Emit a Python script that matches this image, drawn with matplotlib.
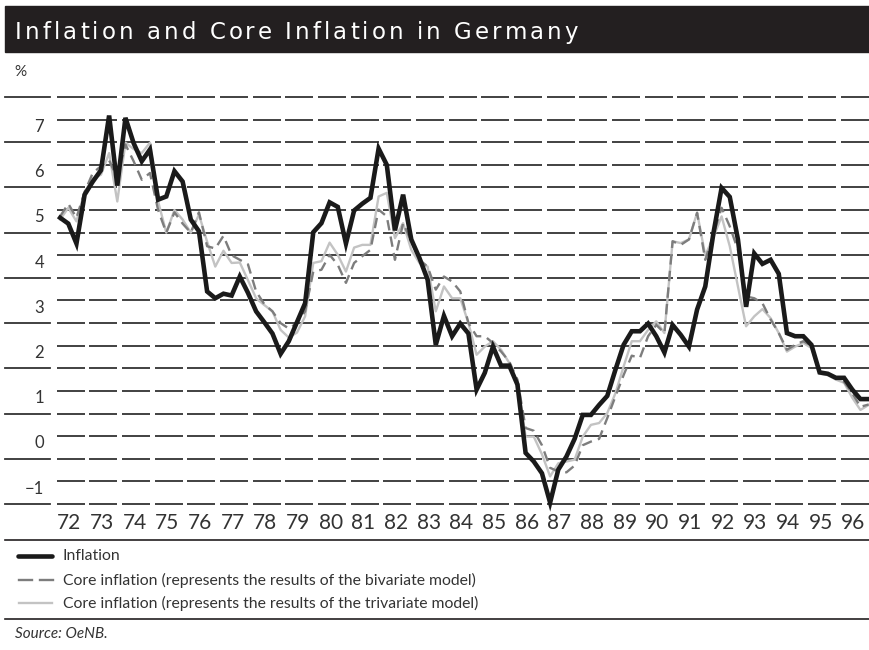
import matplotlib
matplotlib.use('Agg')
import matplotlib.pyplot as plt
import matplotlib.transforms as mtrans
from matplotlib.lines import Line2D
from matplotlib.patches import Rectangle
import numpy as np

plt.rcParams['lines.scale_dashes'] = False

# ---------------- data ----------------
years = list(range(1972, 1997))
year_labels = [f"{y % 100:02d}" for y in years]
y_tick_values = [-1, 0, 1, 2, 3, 4, 5, 6, 7]
y_tick_labels = ["\u22121", "0", "1", "2", "3", "4", "5", "6", "7"]

inflation = [
    5.33, 5.20, 4.76, 5.84, 6.13, 6.38, 7.59, 6.04, 7.54, 6.98,
    6.58, 6.84, 5.73, 5.80, 6.36, 6.13, 5.29, 5.03, 3.70, 3.55,
    3.65, 3.61, 4.03, 3.67, 3.26, 3.02, 2.77, 2.32, 2.60, 3.02,
    3.44, 5.01, 5.21, 5.67, 5.57, 4.76, 5.49, 5.64, 5.77, 6.86,
    6.50, 5.05, 5.84, 4.85, 4.44, 3.96, 2.52, 3.16, 2.71, 2.99,
    2.77, 1.53, 1.90, 2.48, 2.06, 2.06, 1.64, 0.13, -0.06, -0.32,
    -0.97, -0.24, 0.05, 0.44, 0.97, 0.97, 1.19, 1.39, 1.97, 2.52,
    2.82, 2.82, 2.99, 2.71, 2.35, 2.96, 2.74, 2.48, 3.30, 3.81,
    4.99, 5.99, 5.79, 4.85, 3.36, 4.54, 4.31, 4.40, 4.09, 2.78,
    2.71, 2.71, 2.52, 1.91, 1.88, 1.79, 1.79, 1.53, 1.32, 1.32,
]
core_bivariate = [
    5.36, 5.64, 5.33, 5.90, 6.32, 6.47, 6.60, 6.20, 6.95, 6.58,
    6.17, 6.32, 5.50, 5.00, 5.45, 5.20, 5.00, 5.45, 4.70, 4.65,
    4.93, 4.50, 4.40, 4.30, 3.70, 3.42, 3.26, 3.00, 2.88, 3.00,
    3.26, 4.14, 4.18, 4.51, 4.29, 3.89, 4.33, 4.48, 4.62, 5.51,
    5.36, 4.40, 5.21, 4.81, 4.40, 4.25, 3.74, 4.03, 3.92, 3.70,
    3.00, 2.71, 2.71, 2.56, 2.37, 2.15, 1.75, 0.68, 0.62, 0.30,
    -0.20, -0.28, -0.30, -0.15, 0.30, 0.38, 0.44, 0.90, 1.38, 1.85,
    2.28, 2.23, 2.71, 2.96, 2.78, 4.81, 4.73, 4.85, 5.44, 4.40,
    4.96, 5.55, 5.14, 4.62, 3.59, 3.55, 3.44, 3.08, 2.78, 2.41,
    2.52, 2.60, 2.50, 1.90, 1.88, 1.79, 1.70, 1.45, 1.15, 1.20,
]
core_trivariate = [
    5.29, 5.55, 5.25, 5.90, 6.20, 6.28, 6.76, 5.69, 6.99, 6.85,
    6.76, 6.99, 5.69, 5.00, 5.50, 5.29, 5.00, 5.40, 4.80, 4.25,
    4.60, 4.33, 4.34, 3.95, 3.55, 3.40, 3.26, 2.85, 2.68, 2.79,
    3.15, 4.33, 4.37, 4.78, 4.51, 4.14, 4.67, 4.73, 4.73, 5.80,
    5.88, 4.88, 5.21, 4.62, 4.33, 4.25, 3.26, 3.81, 3.55, 3.55,
    3.00, 2.30, 2.48, 2.60, 2.41, 2.12, 1.67, 0.49, 0.49, 0.10,
    -0.39, -0.10, -0.06, -0.02, 0.49, 0.75, 0.79, 1.01, 1.45, 2.04,
    2.60, 2.60, 2.85, 3.04, 2.78, 4.81, 4.77, 4.85, 5.44, 4.50,
    4.90, 5.36, 4.70, 3.81, 2.93, 3.15, 3.31, 3.11, 2.78, 2.37,
    2.48, 2.56, 2.45, 1.88, 1.85, 1.75, 1.68, 1.35, 1.08, 1.19,
]

title = "Inflation and Core Inflation in Germany"
legend_labels = [
    "Inflation",
    "Core inflation (represents the results of the bivariate model)",
    "Core inflation (represents the results of the trivariate model)",
]
source = "Source: OeNB."

# ---------------- figure ----------------
W, H = 869, 650
fig = plt.figure(figsize=(W / 100, H / 100), dpi=100)
fig.patch.set_facecolor('white')


def fx(x):
    return x / W


def fy(y):
    return 1 - y / H


FONT = 'Lato'
DARK = '#231f20'
TXT = '#333333'

ax = fig.add_axes([fx(54), fy(504), fx(869) - fx(54), fy(97) - fy(504)])
ax.set_xlim(1972, 1996.95)
ax.set_ylim(-1, 8)
ax.axis('off')

quarters = 1972 + (np.arange(len(inflation)) + 0.75) / 4

# grid: dashed per-year segments every 0.5
seg_start = [y + 0.08 for y in years]
seg_end = [y + 0.94 for y in years]
for v in np.arange(-1, 8.001, 0.5):
    ax.hlines([v] * len(years), seg_start, seg_end,
              color='#333333', lw=1.3, clip_on=False, zorder=1)

blend = mtrans.blended_transform_factory(fig.transFigure, ax.transData)
for v in range(-1, 9):
    ax.add_line(Line2D([fx(5), fx(50)], [v, v], transform=blend,
                       color='#333333', lw=1.3, clip_on=False))
for v, lab in zip(y_tick_values, y_tick_labels):
    ax.text(fx(44), v + 0.34, lab, transform=blend, ha='right', va='center',
            fontsize=12, family=FONT, color=TXT)

for y, lab in zip(years, year_labels):
    ax.text(y + 0.47, -1.42, lab, ha='center', va='center', fontsize=15,
            family=FONT, color=TXT, clip_on=False)

# series
ax.plot(quarters, core_trivariate, color='#c3c3c3', lw=1.7, clip_on=False, zorder=3)
ax.plot(quarters, core_bivariate, color='#7d7d7d', lw=1.7, dashes=(7.5, 4.5),
        clip_on=False, zorder=4)
ax.plot(quarters, inflation, color='#1a1a1a', lw=3.3, clip_on=False, zorder=5,
        solid_joinstyle='miter')

# percent sign
fig.text(fx(14), fy(72), "%", ha='left', va='center', fontsize=11,
         family=FONT, color=TXT)

# title bar
fig.patches.append(Rectangle((fx(5), fy(52)), fx(869) - fx(5), fy(6) - fy(52),
                             transform=fig.transFigure, color=DARK, zorder=0))
# title with letter spacing
renderer = fig.canvas.get_renderer()
tsize = 16.5
target_w = 563
probe = fig.text(0, 0, title, fontsize=tsize, family='DejaVu Sans')
full_w = probe.get_window_extent(renderer).width
probe.remove()
extra = (target_w - full_w) / (len(title) - 1)


def prefix_width(s):
    if not s:
        return 0.0
    t = fig.text(0, 0, s.replace(' ', '\u00a0'), fontsize=tsize, family='DejaVu Sans')
    w = t.get_window_extent(renderer).width
    t.remove()
    return w


x0 = 15
for k, ch in enumerate(title):
    if ch == ' ':
        continue
    xpos = x0 + prefix_width(title[:k]) + k * extra
    fig.text(fx(xpos), fy(30), ch, fontsize=tsize, family='DejaVu Sans',
             color='white', ha='left', va='center_baseline')

# rules
for yy in (540, 619):
    fig.add_artist(Line2D([fx(5), fx(869)], [fy(yy), fy(yy)], color=DARK, lw=1.2))

# legend
fig.add_artist(Line2D([fx(18), fx(52)], [fy(556), fy(556)], color='#1a1a1a',
                      lw=3.3, solid_capstyle='round'))
fig.add_artist(Line2D([fx(19), fx(32)], [fy(580), fy(580)], color='#7d7d7d', lw=1.7))
fig.add_artist(Line2D([fx(40), fx(53)], [fy(580), fy(580)], color='#7d7d7d', lw=1.7))
fig.add_artist(Line2D([fx(19), fx(52)], [fy(603), fy(603)], color='#c3c3c3', lw=1.7))
for yy, lab in zip((556, 580, 603), legend_labels):
    fig.text(fx(63), fy(yy), lab, ha='left', va='center', fontsize=11.3,
             family=FONT, color=TXT)

fig.text(fx(15), fy(634), source, ha='left', va='center', fontsize=11,
         family=FONT, style='italic', color=TXT)

fig.savefig('out.png', dpi=100)
